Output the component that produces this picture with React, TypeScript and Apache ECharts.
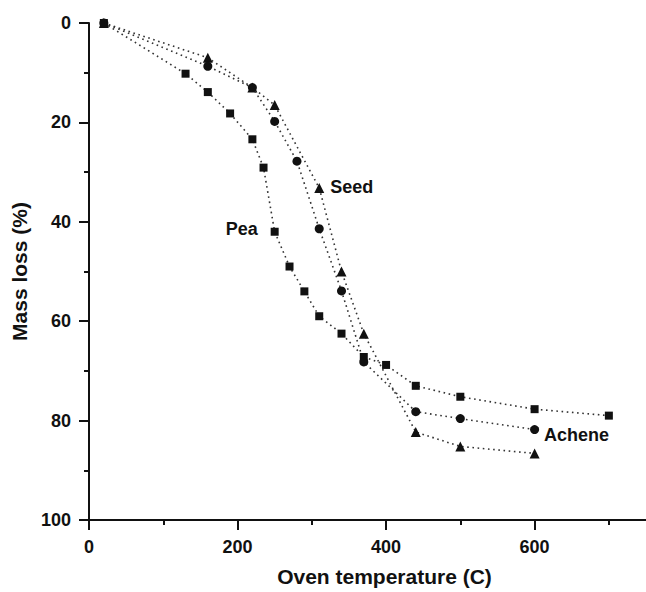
import React, { useEffect, useRef } from "react";
import * as echarts from "echarts";

const peaData: [number, number][] = [
  [20, 0], [130, 10.2], [160, 13.9], [190, 18.2], [220, 23.4], [235, 29.1],
  [250, 42], [270, 49], [290, 54], [310, 59], [340, 62.5], [370, 67.2],
  [400, 68.8], [440, 73], [500, 75.2], [600, 77.7], [700, 79],
];
const acheneData: [number, number][] = [
  [20, 0], [160, 8.7], [220, 13], [250, 19.8], [280, 27.8], [310, 41.4],
  [340, 53.9], [370, 68.2], [440, 78.2], [500, 79.6], [600, 81.8],
];
const seedData: [number, number][] = [
  [20, 0], [160, 7], [220, 13], [250, 16.5], [310, 33.2], [340, 50],
  [370, 62.5], [440, 82.3], [500, 85.2], [600, 86.6],
];
const xMajorTicks = [0, 200, 400, 600];
const xMinorTicks = [100, 300, 500, 700];

const FONT = "'Liberation Sans', Arial, Helvetica, sans-serif";
const INK = "#111";

function withLabel(
  data: [number, number][],
  idx: number,
  text: string,
  position: string,
  distance: number,
  offset: [number, number]
) {
  return data.map((d, i) =>
    i === idx
      ? {
          value: d,
          label: {
            show: true,
            formatter: text,
            position,
            distance,
            offset,
            color: INK,
            fontFamily: FONT,
            fontWeight: "bold",
            fontSize: 18,
          },
        }
      : { value: d }
  );
}

export default function App() {
  const ref = useRef<HTMLDivElement>(null);
  useEffect(() => {
    if (!ref.current) return;
    const chart = echarts.init(ref.current, undefined, { renderer: "svg" });
    const lineStyle = { color: "#333", width: 1.6, type: [1.6, 3.6] as any };
    chart.setOption({
      animation: false,
      backgroundColor: "#fff",
      grid: { left: 89, right: 0, top: 23, bottom: 72 },
      xAxis: [
        {
          type: "value",
          min: 0,
          max: 750,
          interval: 100,
          position: "bottom",
          splitLine: { show: false },
          axisLine: { show: true, onZero: false, lineStyle: { color: INK, width: 2 } },
          axisTick: {
            show: true,
            length: 10,
            customValues: xMajorTicks,
            lineStyle: { color: INK, width: 2 },
          },
          axisLabel: {
            customValues: xMajorTicks,
            margin: 18,
            color: INK,
            fontFamily: FONT,
            fontWeight: "bold",
            fontSize: 18,
          },
          name: "Oven temperature (C)",
          nameLocation: "middle",
          nameGap: 46,
          nameTextStyle: {
            color: INK,
            fontFamily: FONT,
            fontWeight: "bold",
            fontSize: 21,
            padding: [0, 0, 0, 34],
          },
        },
        {
          type: "value",
          min: 0,
          max: 750,
          interval: 100,
          position: "bottom",
          gridIndex: 0,
          splitLine: { show: false },
          axisLine: { show: false, onZero: false },
          axisTick: {
            show: true,
            length: 5,
            customValues: xMinorTicks,
            lineStyle: { color: INK, width: 2 },
          },
          axisLabel: { show: false },
        },
      ],
      yAxis: {
        type: "value",
        inverse: true,
        min: 0,
        max: 100,
        interval: 20,
        splitLine: { show: false },
        axisLine: { show: true, onZero: false, lineStyle: { color: INK, width: 2 } },
        axisTick: { show: true, length: 10, lineStyle: { color: INK, width: 2 } },
        minorTick: { show: true, splitNumber: 2, length: 5, lineStyle: { color: INK, width: 2 } },
        minorSplitLine: { show: false },
        axisLabel: {
          margin: 18,
          color: INK,
          fontFamily: FONT,
          fontWeight: "bold",
          fontSize: 18,
        },
        name: "Mass loss (%)",
        nameLocation: "middle",
        nameGap: 57,
        nameTextStyle: {
          color: INK,
          fontFamily: FONT,
          fontWeight: "bold",
          fontSize: 21,
        },
      },
      series: [
        {
          name: "Seed",
          type: "line",
          symbol: "triangle",
          symbolSize: 10,
          itemStyle: { color: INK },
          lineStyle,
          data: withLabel(seedData, 4, "Seed", "right", 6, [0, -1]),
          z: 3,
        },
        {
          name: "Achene",
          type: "line",
          symbol: "circle",
          symbolSize: 9,
          itemStyle: { color: INK },
          lineStyle,
          data: withLabel(acheneData, 10, "Achene", "right", 5, [0, 5]),
          z: 4,
        },
        {
          name: "Pea",
          type: "line",
          symbol: "rect",
          symbolSize: 8,
          itemStyle: { color: INK },
          lineStyle,
          data: withLabel(peaData, 6, "Pea", "left", 13, [0, -3]),
          z: 5,
        },
      ],
    });
    return () => chart.dispose();
  }, []);
  return (
    <div
      ref={ref}
      style={{ position: "fixed", left: 0, top: 0, width: 646, height: 592, background: "#fff" }}
    />
  );
}
